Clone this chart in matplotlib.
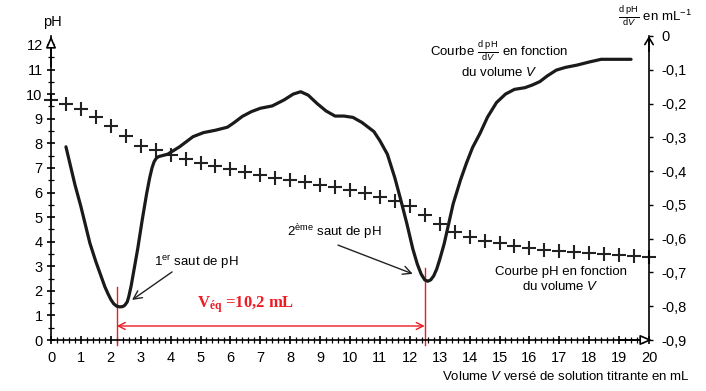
import matplotlib
matplotlib.use("Agg")
import matplotlib.pyplot as plt
import numpy as np

plt.rcParams['font.family'] = ['Liberation Sans', 'DejaVu Sans']
plt.rcParams['mathtext.fontset'] = 'custom'
plt.rcParams['mathtext.rm'] = 'Liberation Sans'
plt.rcParams['mathtext.it'] = 'Liberation Sans:italic'
plt.rcParams['mathtext.bf'] = 'Liberation Sans:bold'

# pH curve (crosses), one point every 0.5 mL
v_ph = np.arange(0, 20.01, 0.5)
ph = [9.76, 9.59, 9.39, 9.08, 8.70, 8.29, 7.91, 7.72, 7.53, 7.36, 7.21,
      7.07, 6.95, 6.82, 6.71, 6.60, 6.50, 6.41, 6.31, 6.21, 6.10,
      5.96, 5.83, 5.66, 5.45, 5.08, 4.70, 4.40, 4.19, 4.02, 3.93,
      3.83, 3.75, 3.66, 3.62, 3.58, 3.55, 3.50, 3.44, 3.41, 3.39]

# derivative curve dpH/dV (right axis)
v_d = [0.5, 0.8, 1.0, 1.3, 1.5, 1.65, 1.8, 1.9, 2.0, 2.1, 2.2, 2.3, 2.4, 2.47,
       2.55, 2.6, 2.68, 2.75, 2.9, 3.05, 3.2, 3.3, 3.38, 3.45, 3.52, 3.6, 3.9,
       4.3, 4.75, 5.1, 5.5, 5.9, 6.1, 6.4, 6.7, 7.0, 7.4, 7.8, 8.1, 8.35, 8.6,
       8.9, 9.2, 9.5, 9.8, 10.1, 10.4, 10.8, 11.0, 11.25, 11.5, 11.7, 11.9,
       12.1, 12.25, 12.38, 12.5, 12.6, 12.7, 12.8, 12.9, 13.0, 13.15, 13.45,
       13.7, 13.9, 14.1, 14.35, 14.6, 14.9, 15.2, 15.5, 15.85, 16.1, 16.35,
       16.6, 16.9, 17.2, 17.6, 18.0, 18.4, 19.4]
dph = [-0.328, -0.44, -0.505, -0.613, -0.668, -0.705, -0.742, -0.762, -0.780,
       -0.793, -0.800, -0.802, -0.801, -0.797, -0.787, -0.772, -0.740, -0.705,
       -0.630, -0.545, -0.466, -0.420, -0.390, -0.372, -0.362, -0.357, -0.350,
       -0.328, -0.298, -0.286, -0.279, -0.270, -0.258, -0.238, -0.224, -0.214,
       -0.207, -0.189, -0.172, -0.165, -0.175, -0.200, -0.222, -0.237, -0.237,
       -0.241, -0.256, -0.283, -0.310, -0.350, -0.420, -0.486, -0.555, -0.630,
       -0.675, -0.705, -0.722, -0.726, -0.722, -0.710, -0.690, -0.662, -0.615,
       -0.497, -0.425, -0.375, -0.330, -0.288, -0.240, -0.197, -0.172, -0.158,
       -0.153, -0.145, -0.135, -0.118, -0.101, -0.093, -0.086, -0.077, -0.069,
       -0.069]

v_eq1 = 2.2
v_eq2 = 12.5
right_ticks = [-0.9, -0.8, -0.7, -0.6, -0.5, -0.4, -0.3, -0.2, -0.1, 0]
right_labels = ['-0,9', '-0,8', '-0,7', '-0,6', '-0,5', '-0,4', '-0,3', '-0,2', '-0,1', '0']

red = '#ed1c24'
fs = 9.5
W, H = 706, 391
fig = plt.figure(figsize=(W / 100, H / 100), dpi=100)
ax = fig.add_axes([51 / W, 1 - 340 / H, 598 / W, 304 / H])
ax2 = ax.twinx()

ax.set_xlim(0, 20)
ax.set_ylim(0, 304 * 12 / 295)
ax2.set_ylim(-0.9, 0)

ax.plot(v_ph, ph, ls='none', marker='+', ms=9.5, mew=1.5, color='#222222', clip_on=False)
ax2.plot(v_d, dph, color='#1a1a1a', lw=2.3, solid_capstyle='round', solid_joinstyle='round')

for a in (ax, ax2):
    a.spines['top'].set_visible(False)
ax.spines['right'].set_visible(False)
ax2.spines['left'].set_visible(False)
ax2.spines['bottom'].set_visible(False)
for s in ('left', 'bottom'):
    ax.spines[s].set_linewidth(1.2)
ax2.spines['right'].set_linewidth(1.2)

ax.set_xticks(np.arange(0, 21, 1))
ax.set_xticks(np.arange(0, 20.01, 0.2), minor=True)
ax.set_yticks(np.arange(0, 13, 1))
ax.set_yticks(np.arange(0, 12.01, 0.5), minor=True)
ax.tick_params(which='major', direction='inout', length=6, width=1.2, labelsize=10.5, pad=3)
ax.tick_params(which='minor', direction='inout', length=4, width=0.9)
ax.tick_params(axis='x', pad=5)

ax2.set_yticks(right_ticks)
ax2.set_yticklabels(right_labels)
ax2.tick_params(axis='y', direction='out', length=3, width=1, labelsize=10.5, pad=6)

# axis arrows
ax.annotate('', xy=(0, 1.0), xytext=(0, 0.9), xycoords='axes fraction',
            arrowprops=dict(arrowstyle='-|>,head_length=0.7,head_width=0.3', fc='white',
                            ec='black', lw=1.2, shrinkA=0, shrinkB=0))
ax.annotate('', xy=(1.005, 0), xytext=(0.95, 0), xycoords='axes fraction',
            arrowprops=dict(arrowstyle='-|>,head_length=0.7,head_width=0.3', fc='white',
                            ec='black', lw=1.2, shrinkA=0, shrinkB=0))
ax2.annotate('', xy=(1, 1.0), xytext=(1, 0.95), xycoords='axes fraction',
             arrowprops=dict(arrowstyle='->,head_length=0.5,head_width=0.3',
                             ec='black', lw=1.2, shrinkA=0, shrinkB=0))

# equivalence marks
ax.plot([v_eq1, v_eq1], [-0.2, 2.16], color=red, lw=1, clip_on=False)
ax.plot([v_eq2, v_eq2], [-0.2, 2.93], color=red, lw=1, clip_on=False)
ax.annotate('', xy=(v_eq2, 0.57), xytext=(v_eq1, 0.57),
            arrowprops=dict(arrowstyle='<->,head_length=0.5,head_width=0.25', color=red,
                            lw=1, shrinkA=0, shrinkB=0))
ax.text(6.5, 1.46, r'V$_{\mathregular{éq}}$ =10,2 mL', color=red, fontsize=12,
        fontfamily='Liberation Serif', fontweight='bold', ha='center', va='center')

# annotations
ax.text(3.44, 3.17, r'1$^{\mathregular{er}}$ saut de pH', fontsize=fs, ha='left', va='center')
ax.annotate('', xy=(2.71, 1.63), xytext=(4.05, 2.77),
            arrowprops=dict(arrowstyle='->,head_length=0.6,head_width=0.3', lw=1, color='#222222',
                            shrinkA=0, shrinkB=0))
ax.text(7.89, 4.39, r'2$^{\mathregular{ème}}$ saut de pH', fontsize=fs, ha='left', va='center')
ax.annotate('', xy=(12.1, 2.69), xytext=(9.6, 3.86),
            arrowprops=dict(arrowstyle='->,head_length=0.6,head_width=0.3', lw=1, color='#222222',
                            shrinkA=0, shrinkB=0))

ax.text(15.0, 11.72, r'Courbe $\frac{\mathregular{d\ pH}}{\mathregular{d}\mathit{V}}$ en fonction',
        fontsize=fs, ha='center', va='center')
ax.text(15.0, 10.9, r'du volume $\mathit{V}$', fontsize=fs, ha='center', va='center')
ax.text(17.05, 2.78, 'Courbe pH en fonction', fontsize=fs, ha='center', va='center')
ax.text(17.05, 2.17, r'du volume $\mathit{V}$', fontsize=fs, ha='center', va='center')

# axis titles
fig.text(52 / W, 1 - 22 / H, 'pH', fontsize=10.5, ha='center', va='center')
fig.text(655 / W, 1 - 17 / H, r'$\frac{\mathregular{d\ pH}}{\mathregular{d}\mathit{V}}$ en mL$^{\mathregular{-1}}$',
         fontsize=fs, ha='center', va='center')
fig.text(690 / W, 1 - 377 / H, r'Volume $\mathit{V}$ versé de solution titrante en mL',
         fontsize=fs, ha='right', va='center')

fig.savefig('out.png', dpi=100)
